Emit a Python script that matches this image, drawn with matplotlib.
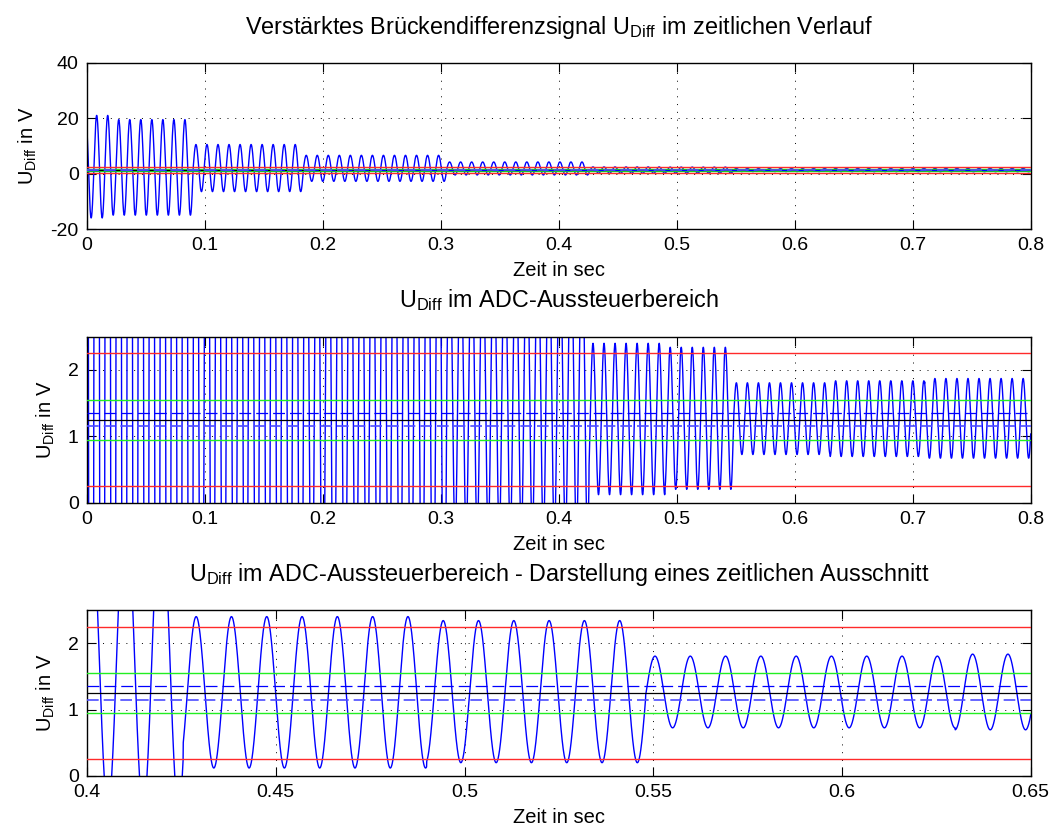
import numpy as np
import matplotlib
matplotlib.use("Agg")
import matplotlib.pyplot as plt

plt.rcParams['font.family'] = ['Liberation Sans', 'DejaVu Sans']
plt.rcParams['mathtext.fontset'] = 'custom'
plt.rcParams['mathtext.rm'] = 'Liberation Sans'
plt.rcParams['mathtext.it'] = 'Liberation Sans:italic'
plt.rcParams['axes.unicode_minus'] = False

# signal: sine bursts with stepwise gain
freq_hz = 106.96          # one period ~ 9.35 ms
first_peak = 0.0082       # time of the first maximum in sec
seg_start = [0.0, 0.0199, 0.090, 0.1835, 0.305, 0.4255, 0.490, 0.548, 0.630, 0.710]
seg_end = [0.0199, 0.090, 0.1835, 0.305, 0.4255, 0.490, 0.548, 0.630, 0.710, 0.800]
seg_amp = [18.5, 17.25, 8.5, 4.7, 2.35, 1.14, 1.07, 0.54, 0.57, 0.60]
seg_offset = [2.5, 2.25, 2.0, 1.9, 1.85, 1.26, 1.27, 1.265, 1.265, 1.27]

# ADC limits / thresholds
red_levels = [0.25, 2.25]
green_levels = [0.95, 1.55]
blue_levels = [1.15, 1.35]
mid_level = 1.25

titles = [
    r'Verstärktes Brückendifferenzsignal U$_{\mathrm{Diff}}$ im zeitlichen Verlauf',
    r'U$_{\mathrm{Diff}}$ im ADC-Aussteuerbereich',
    r'U$_{\mathrm{Diff}}$ im ADC-Aussteuerbereich - Darstellung eines zeitlichen Ausschnitt',
]
ylab = r'U$_{\mathrm{Diff}}$ in V'
xlims = [(0, 0.8), (0, 0.8), (0.4, 0.65)]
ylims = [(-20, 40), (0, 2.5), (0, 2.5)]
xticks = [np.arange(0, 0.81, 0.1), np.arange(0, 0.81, 0.1), [0.4, 0.45, 0.5, 0.55, 0.6, 0.65]]
xticklabels = [['0', '0.1', '0.2', '0.3', '0.4', '0.5', '0.6', '0.7', '0.8']] * 2 + \
    [['0.4', '0.45', '0.5', '0.55', '0.6', '0.65']]
yticks = [[-20, 0, 20, 40], [0, 1, 2], [0, 1, 2]]

t = np.arange(0, 0.8, 1 / 20000.0)
u = np.zeros_like(t)
for s, e, a, o in zip(seg_start, seg_end, seg_amp, seg_offset):
    m = (t >= s) & (t < e)
    u[m] = o + a * np.cos(2 * np.pi * freq_hz * (t[m] - first_peak))

fig = plt.figure(figsize=(10.52, 8.31), dpi=100)
positions = [
    [0.0827, 0.7244, 0.8971, 0.2001],
    [0.0827, 0.3951, 0.8971, 0.1998],
    [0.0827, 0.0662, 0.8971, 0.1998],
]

for i in range(3):
    ax = fig.add_axes(positions[i])
    ax.plot(t, u, color='#0000ff', lw=1.0, zorder=2)
    for y in red_levels:
        ax.axhline(y, color='#ff2a2a', lw=1.0, zorder=3)
    for y in green_levels:
        ax.axhline(y, color='#22ee22', lw=1.0, zorder=3)
    ax.axhline(mid_level, color='black', lw=0.9, zorder=3)
    ax.axhline(blue_levels[1], color='#0000ff', lw=0.9, ls=(0, (9.5, 4)), zorder=3)
    ax.axhline(blue_levels[0], color='#4d4dff', lw=1.2, ls=(0, (7, 3)), zorder=3)

    ax.set_xlim(*xlims[i])
    ax.set_ylim(*ylims[i])
    ax.set_xticks(xticks[i])
    ax.set_xticklabels(xticklabels[i])
    ax.set_yticks(yticks[i])
    ax.grid(True, color='black', lw=0.7, ls=(0, (1, 7)))
    ax.tick_params(direction='in', length=6.5, width=0.8, top=True, right=True,
                   labelsize=14, pad=6)
    for sp in ax.spines.values():
        sp.set_linewidth(1.0)
    ax.set_title(titles[i], fontsize=16.8, pad=21)
    ax.set_xlabel('Zeit in sec', fontsize=14.5, labelpad=5)
    ax.set_ylabel(ylab, fontsize=14.5, labelpad=8)

fig.savefig('out.png', dpi=100)
